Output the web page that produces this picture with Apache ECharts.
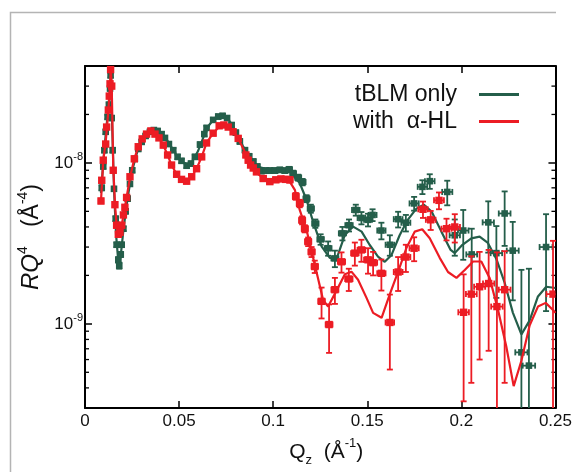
<!DOCTYPE html>
<html><head><meta charset="utf-8">
<script src="https://cdn.jsdelivr.net/npm/echarts@6/dist/echarts.min.js"></script>
<style>html,body{margin:0;padding:0;background:#fff}#c{width:575px;height:472px}</style>
</head><body><div id="c"></div>
<script>
// values of R*Q^4 are in units of 1e-9 Å^-4
const UNIT = 1e-9;
const seriesNames = ['tBLM only', 'with  α-HL'];
const xTickStep = 0.05;
const qRange = [0, 0.25];
const rRange = [3e-10, 4e-8];
const dqRel = 0.014; // relative Q resolution (horizontal bars)

const greenQ = [0.0089,0.0097,0.0103,0.011,0.012,0.0127,0.0133,0.0136,0.0142,0.0147,0.0154,0.0163,0.0168,0.0177,0.0182,0.019,0.0195,0.0204,0.0216,0.0227,0.0239,0.0251,0.0265,0.0283,0.0301,0.0322,0.0345,0.0366,0.0386,0.0407,0.0425,0.0446,0.0469,0.0492,0.0513,0.054,0.0563,0.0584,0.0611,0.0634,0.0646,0.0681,0.0708,0.0731,0.0755,0.0779,0.0802,0.0823,0.085,0.0872,0.0894,0.0915,0.0938,0.0961,0.0982,0.1009,0.1035,0.1062,0.1085,0.1106,0.1133,0.1156,0.1177,0.12,0.1224,0.1252,0.1292,0.1328,0.1368,0.1403,0.1439,0.1469,0.1504,0.1528,0.1575,0.162,0.1664,0.1705,0.1749,0.1793,0.1832,0.1925,0.1965,0.201,0.2055,0.2143,0.2186,0.223,0.2273,0.2319,0.2359,0.245];
const greenR = [7.0,9.5,12,15.6,19.3,23,29,35,19,12,6.9,4.5,3.1,2.5,2.3,2.7,3.1,3.9,5.0,6.0,7.4,9.0,10.6,12.2,13.5,14.7,15.6,16.0,15.8,15.1,14.3,13.1,12.0,10.9,10.3,9.6,9.9,10.9,13.0,15.1,16.5,18.5,19.4,19.6,19.0,17.2,15.4,13.6,12.0,11.0,10.2,9.5,8.9,8.96,8.96,8.96,9.05,8.96,9.1,8.6,8.1,7.6,6.0,5.2,4.2,3.35,2.95,2.55,3.65,4.1,5.1,4.55,4.43,4.75,3.8,3.1,4.47,4.25,5.6,7.1,7.7,6.6,3.55,3.8,2.7,4.27,2.75,4.85,2.85,0.665,0.55,3.0];
const greenErr = [0.25,0.3,0.4,0.5,0.6,0.7,0.9,1.1,0.6,0.4,0.2,0.15,0.1,0.1,0.1,0.1,0.1,0.12,0.15,0.18,0.22,0.27,0.3,0.35,0.4,0.4,0.45,0.45,0.45,0.45,0.4,0.4,0.35,0.35,0.3,0.3,0.3,0.35,0.4,0.45,0.5,0.55,0.6,0.6,0.6,0.5,0.5,0.45,0.4,0.35,0.35,0.3,0.3,0.3,0.3,0.3,0.3,0.3,0.35,0.35,0.35,0.35,0.3,0.3,0.25,0.25,0.3,0.3,0.35,0.35,0.4,0.4,0.4,0.4,0.45,0.45,0.5,0.5,0.55,0.7,0.8,1.15,0.9,1.3,1.2,1.5,1.3,1.8,1.45,1.5,1.65,1.8];

const redQ = [0.0085,0.0089,0.0097,0.011,0.0115,0.0124,0.0129,0.0133,0.0136,0.0142,0.015,0.0159,0.0168,0.0177,0.0186,0.0195,0.0204,0.0212,0.0221,0.0239,0.0262,0.0283,0.0304,0.0327,0.035,0.0372,0.0393,0.0416,0.0439,0.046,0.0487,0.0513,0.054,0.0567,0.0593,0.062,0.0646,0.0681,0.0713,0.0738,0.0761,0.0787,0.0814,0.0855,0.0867,0.088,0.0894,0.0911,0.0947,0.0982,0.1014,0.1041,0.1067,0.1088,0.112,0.1141,0.1154,0.1168,0.1186,0.1204,0.1221,0.1257,0.1297,0.1328,0.1363,0.1402,0.1434,0.1469,0.1504,0.1531,0.1575,0.162,0.1664,0.1705,0.1749,0.1796,0.1837,0.1881,0.1921,0.1965,0.2012,0.2053,0.2097,0.2145,0.2189,0.223,0.2487];
const redR = [5.8,7.8,10.4,13.1,16.7,21.3,26,31,38,30,9.0,5.5,4.1,3.6,3.7,4.1,4.75,5.3,6.1,8.2,10.6,12.6,14.1,15.1,15.8,15.1,14.3,12.9,11.2,9.7,8.5,7.9,7.7,8.2,9.2,10.9,13.3,15.3,17.0,17.2,16.7,15.6,14.2,11.2,10.4,9.7,9.3,8.8,8.0,7.65,7.85,7.95,7.9,7.85,6.2,5.6,4.4,3.9,3.24,2.8,2.27,1.38,0.99,1.63,2.43,1.9,2.75,2.88,2.5,2.4,2.06,1.02,2.1,2.6,2.95,5.15,4.43,5.85,3.9,4.0,1.18,1.53,1.7,1.78,1.28,1.63,1.53];
const redErr = [0.2,0.25,0.3,0.4,0.5,0.65,0.8,0.95,1.2,0.9,0.3,0.17,0.13,0.11,0.11,0.13,0.15,0.16,0.18,0.25,0.3,0.35,0.4,0.45,0.45,0.45,0.4,0.4,0.35,0.3,0.25,0.25,0.25,0.25,0.3,0.35,0.4,0.45,0.5,0.5,0.5,0.5,0.45,0.35,0.35,0.3,0.3,0.3,0.25,0.25,0.25,0.25,0.3,0.3,0.3,0.3,0.25,0.2,0.2,0.2,0.2,0.3,0.33,0.3,0.35,0.3,0.45,0.45,0.45,0.4,0.45,0.5,0.5,0.5,0.5,0.6,0.6,0.7,0.6,0.8,0.85,1.1,1.1,1.1,1.5,1.2,1.75];

const fitGreenQ = [0.0085,0.0097,0.011,0.0124,0.0133,0.0138,0.0145,0.0155,0.0165,0.0175,0.0183,0.0192,0.0205,0.0225,0.025,0.028,0.031,0.034,0.037,0.04,0.043,0.046,0.049,0.052,0.0545,0.057,0.06,0.063,0.066,0.069,0.072,0.075,0.078,0.081,0.084,0.087,0.09,0.093,0.096,0.1,0.104,0.1088,0.1141,0.1177,0.1212,0.1257,0.1301,0.1338,0.1381,0.1425,0.147,0.1513,0.1557,0.1593,0.1629,0.1672,0.1715,0.1761,0.18,0.1843,0.1894,0.1943,0.1965,0.2002,0.2053,0.2097,0.2141,0.2186,0.223,0.2274,0.2319,0.2363,0.2407,0.2451,0.25];
const fitGreenR = [6.5,10,15,22,29,36,16,6.5,3.6,2.6,2.3,2.8,3.9,5.9,8.9,12,14.2,15.6,16,15.5,14.2,12.5,11,10.1,9.8,10.2,11.8,14.5,17.2,19,19.8,19.3,17.4,14.8,12.7,11.1,10,9.4,9.2,9.2,9.3,8.8,7.5,5.9,4.32,3.03,2.57,2.56,3.57,4.02,3.74,3.09,2.62,2.43,2.68,3.55,4.43,5.2,5.5,4.96,3.74,2.88,2.75,3.07,3.4,3.48,3.18,2.53,1.8,1.17,0.86,1.05,1.48,1.7,1.67];

const fitRedQ = [0.0085,0.0097,0.011,0.0124,0.0133,0.0137,0.0142,0.015,0.016,0.0168,0.0177,0.0186,0.0195,0.0212,0.024,0.0262,0.0283,0.0304,0.0327,0.035,0.0372,0.0393,0.0416,0.0439,0.046,0.0487,0.0513,0.054,0.0567,0.0593,0.062,0.0646,0.0681,0.0713,0.0738,0.0761,0.0787,0.0814,0.0845,0.0875,0.091,0.095,0.0985,0.102,0.106,0.1088,0.1115,0.1141,0.1177,0.123,0.1265,0.1292,0.1333,0.1381,0.1416,0.1451,0.1496,0.1531,0.1576,0.1619,0.1664,0.1708,0.1752,0.1792,0.1832,0.1885,0.1929,0.1974,0.2018,0.2062,0.2106,0.215,0.2195,0.2239,0.2278,0.2319,0.2363,0.2407,0.2448,0.2487,0.25];
const fitRedR = [5.8,10.4,13.5,21,30,39,30,9.5,5.4,4.1,3.6,3.7,4.1,5.3,8.2,10.6,12.6,14.1,15.2,15.8,15.2,14.3,12.9,11.2,9.7,8.5,7.9,7.7,8.2,9.2,10.9,13.3,15.3,16.8,17.2,16.7,15.6,14.2,12,10,8.7,8,7.7,7.85,7.9,7.65,6.8,5.1,3.84,2.11,1.41,1.28,1.58,2.03,2.11,1.88,1.45,1.17,1.09,1.52,2.11,2.96,3.74,3.87,3.4,2.57,2.1,1.93,2.16,2.44,2.44,1.93,1.22,0.72,0.41,0.59,0.98,1.28,1.35,1.22,1.17];

const GREEN = '#245e4a';
const RED = '#ec1c24';
const FONT = '"Liberation Sans", Arial, Helvetica, sans-serif';

const toPts = (qs, rs, es) => qs.map((q, i) => es ? [q, rs[i] * UNIT, es[i] * UNIT] : [q, rs[i] * UNIT]);

function makeErrRender(color, half) {
  return function (params, api) {
    const cs = params.coordSys;
    const x0 = cs.x, x1 = cs.x + cs.width, y0 = cs.y, y1 = cs.y + cs.height;
    const cy = v => Math.max(y0, Math.min(y1, v));
    const cx = v => Math.max(x0, Math.min(x1, v));
    const q = api.value(0), r = api.value(1), e = api.value(2);
    const c = api.coord([q, r]);
    const tp = api.coord([q, r + e]);
    const hasLow = r - e > 0;
    const bt = hasLow ? api.coord([q, r - e]) : [c[0], y1 + 50];
    const lf = api.coord([q * (1 - dqRel), r]);
    const rt = api.coord([q * (1 + dqRel), r]);
    const st = { stroke: color, lineWidth: 1.8 };
    const ch = [];
    const inX = c[0] >= x0 && c[0] <= x1;
    if (inX) {
      ch.push({ type: 'line', shape: { x1: c[0], y1: cy(tp[1]), x2: c[0], y2: cy(bt[1]) }, style: st });
      if (tp[1] >= y0) ch.push({ type: 'line', shape: { x1: c[0] - 3, y1: tp[1], x2: c[0] + 3, y2: tp[1] }, style: st });
      if (bt[1] <= y1) ch.push({ type: 'line', shape: { x1: c[0] - 3, y1: bt[1], x2: c[0] + 3, y2: bt[1] }, style: st });
    }
    if (c[1] >= y0 && c[1] <= y1) {
      ch.push({ type: 'line', shape: { x1: cx(lf[0]), y1: c[1], x2: cx(rt[0]), y2: c[1] }, style: st });
      if (lf[0] >= x0) ch.push({ type: 'line', shape: { x1: lf[0], y1: c[1] - 3, x2: lf[0], y2: c[1] + 3 }, style: st });
      if (rt[0] <= x1) ch.push({ type: 'line', shape: { x1: rt[0], y1: c[1] - 3, x2: rt[0], y2: c[1] + 3 }, style: st });
      const l = Math.max(x0, c[0] - half), rr = Math.min(x1, c[0] + half);
      ch.push({ type: 'rect', shape: { x: l, y: c[1] - half, width: rr - l, height: 2 * half }, style: { fill: color } });
    }
    return { type: 'group', children: ch };
  };
}

// log minor ticks
const minorMantissas = [2, 3, 4, 5, 6, 7, 8, 9];
const decades = [-10, -9, -8];
const minorTicks = [];
decades.forEach(d => minorMantissas.forEach(m => {
  const v = m * Math.pow(10, d);
  if (v > rRange[0] * 1.0001 && v < rRange[1] * 0.9999) minorTicks.push([0, v]);
}));

const axisCommon = () => ({
  axisLine: { show: true, onZero: false, lineStyle: { color: '#000', width: 2 } },
  axisTick: { show: true, inside: true, length: 7, lineStyle: { color: '#000', width: 1.5 } },
  splitLine: { show: false },
  minorTick: { show: false }
});

const yLabelFmt = v => {
  const lg = Math.log10(v), e = Math.round(lg);
  if (Math.abs(lg - e) > 1e-6) return '';
  return '{b|10}{s|' + e + '}';
};

const chart = echarts.init(document.getElementById('c'), null, { renderer: 'canvas' });
chart.setOption({
  animation: false,
  backgroundColor: '#fff',
  textStyle: { fontFamily: FONT },
  graphic: [{
    type: 'polyline',
    shape: { points: [[10.5, 472], [10.5, 12.5], [556, 12.5]] },
    style: { stroke: '#b4b4b4', lineWidth: 1.5, fill: null },
    silent: true
  }],
  grid: { left: 85, right: 19, top: 66, bottom: 63, containLabel: false },
  legend: {
    data: [{ name: seriesNames[0], icon: 'rect' }, { name: seriesNames[1], icon: 'rect' }],
    orient: 'vertical', align: 'right', right: 56, top: 83, padding: 0,
    itemWidth: 40, itemHeight: 3, itemGap: 4,
    textStyle: { fontFamily: FONT, fontSize: 23, color: '#111', padding: [0, 17, 0, 0] },
    selectedMode: false
  },
  xAxis: [
    Object.assign(axisCommon(), {
      type: 'value', min: qRange[0], max: qRange[1], interval: xTickStep, position: 'bottom',
      axisLabel: { show: true, fontFamily: FONT, fontSize: 17, color: '#111', margin: 5 },
      name: '{b|Q}{sub|z}{b|  (Å}{s|-1}{b|)}', nameLocation: 'middle', nameGap: 29,
      nameTextStyle: {
        fontFamily: FONT, color: '#111', padding: [0, 0, 0, 12],
        rich: {
          b: { fontSize: 21, fontFamily: FONT, color: '#111', lineHeight: 30, verticalAlign: 'middle' },
          sub: { fontSize: 13, fontFamily: FONT, color: '#111', lineHeight: 14, verticalAlign: 'bottom' },
          s: { fontSize: 13, fontFamily: FONT, color: '#111', lineHeight: 14, verticalAlign: 'top' }
        }
      }
    }),
    Object.assign(axisCommon(), {
      type: 'value', min: qRange[0], max: qRange[1], interval: xTickStep, position: 'top',
      axisLabel: { show: false }
    })
  ],
  yAxis: [
    Object.assign(axisCommon(), {
      type: 'log', logBase: 10, min: rRange[0], max: rRange[1], position: 'left',
      axisLabel: {
        show: true, margin: 2, formatter: yLabelFmt,
        rich: {
          b: { fontSize: 17, fontFamily: FONT, color: '#111', lineHeight: 22, verticalAlign: 'middle' },
          s: { fontSize: 11, fontFamily: FONT, color: '#111', lineHeight: 12, verticalAlign: 'top' }
        }
      },
      name: '{i|RQ}{s|4}{b|   (Å}{s|-4}{b|)}', nameLocation: 'middle', nameRotate: 90, nameGap: 32,
      nameTextStyle: {
        fontFamily: FONT, color: '#111',
        rich: {
          i: { fontSize: 24, fontStyle: 'italic', fontFamily: FONT, color: '#111', lineHeight: 30, verticalAlign: 'middle' },
          b: { fontSize: 23, fontFamily: FONT, color: '#111', lineHeight: 30, verticalAlign: 'middle' },
          s: { fontSize: 14, fontFamily: FONT, color: '#111', lineHeight: 14, verticalAlign: 'top' }
        }
      }
    }),
    Object.assign(axisCommon(), {
      type: 'log', logBase: 10, min: rRange[0], max: rRange[1], position: 'right',
      axisLabel: { show: false }
    })
  ],
  series: [
    {
      type: 'custom', name: 'minor', silent: true, data: minorTicks, z: 1,
      renderItem: function (params, api) {
        const cs = params.coordSys;
        const y = api.coord([0, api.value(1)])[1];
        const st = { stroke: '#000', lineWidth: 1.3 };
        return { type: 'group', children: [
          { type: 'line', shape: { x1: cs.x, y1: y, x2: cs.x + 4, y2: y }, style: st },
          { type: 'line', shape: { x1: cs.x + cs.width - 4, y1: y, x2: cs.x + cs.width, y2: y }, style: st }
        ] };
      }
    },
    {
      type: 'line', name: seriesNames[0], data: toPts(fitGreenQ, fitGreenR), symbol: 'none', showSymbol: false,
      color: GREEN, lineStyle: { color: GREEN, width: 2.2 }, z: 2
    },
    {
      type: 'custom', name: 'tBLM data', silent: true, data: toPts(greenQ, greenR, greenErr), z: 3,
      renderItem: makeErrRender(GREEN, 3.3)
    },
    {
      type: 'line', name: seriesNames[1], data: toPts(fitRedQ, fitRedR), symbol: 'none', showSymbol: false,
      color: RED, lineStyle: { color: RED, width: 2.2 }, z: 4
    },
    {
      type: 'custom', name: 'aHL data', silent: true, data: toPts(redQ, redR, redErr), z: 5,
      renderItem: makeErrRender(RED, 3.7)
    }
  ]
});
</script>
</body></html>
